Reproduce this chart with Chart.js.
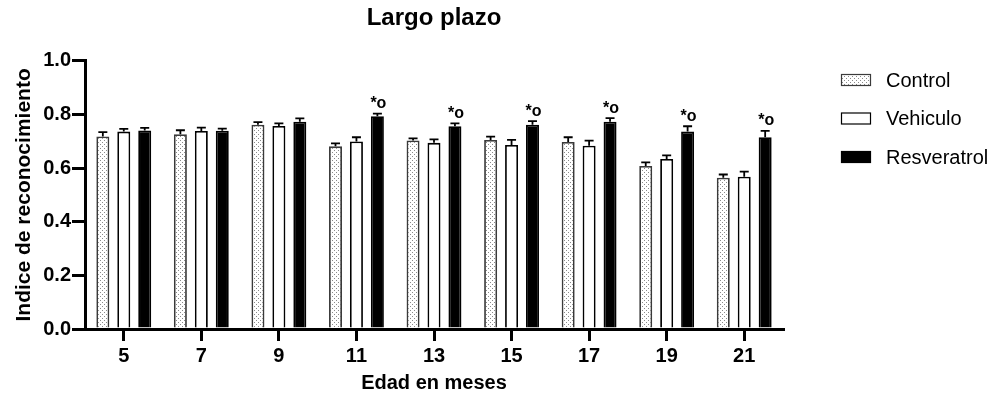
<!DOCTYPE html>
<html>
<head>
<meta charset="utf-8">
<script src="https://cdn.jsdelivr.net/npm/chart.js@4/dist/chart.umd.min.js"></script>
<style>
  html, body { margin: 0; padding: 0; background: #fff; }
  #wrap { width: 1000px; height: 398px; }
</style>
</head>
<body>
<div id="wrap"><canvas id="c" width="1000" height="398"></canvas></div>
<script>
// Age groups (months)
const edades = ['5', '7', '9', '11', '13', '15', '17', '19', '21'];

// Mean recognition index per group
const control     = [0.718, 0.726, 0.762, 0.681, 0.703, 0.705, 0.697, 0.608, 0.564];
const vehiculo    = [0.736, 0.738, 0.757, 0.699, 0.694, 0.686, 0.683, 0.634, 0.568];
const resveratrol = [0.740, 0.739, 0.773, 0.793, 0.756, 0.762, 0.773, 0.736, 0.715];

// Standard error of the mean
const controlErr     = [0.016, 0.015, 0.009, 0.011, 0.008, 0.012, 0.018, 0.013, 0.012];
const vehiculoErr    = [0.010, 0.013, 0.010, 0.016, 0.013, 0.019, 0.019, 0.013, 0.019];
const resveratrolErr = [0.010, 0.008, 0.012, 0.010, 0.011, 0.013, 0.013, 0.020, 0.024];

// Significance marks above the resveratrol bars
const resveratrolMarks = ['', '', '', '*o', '*o', '*o', '*o', '*o', '*o'];

// Y axis ticks
const yTicks = [0.0, 0.2, 0.4, 0.6, 0.8, 1.0];

const FONT = '"Liberation Sans", Arial, Helvetica, sans-serif';

// Stippled fill for the control group
function stipple() {
  const p = document.createElement('canvas');
  p.width = 4; p.height = 4;
  const g = p.getContext('2d');
  g.fillStyle = '#ffffff';
  g.fillRect(0, 0, 4, 4);
  g.fillStyle = '#8a8a8a';
  g.fillRect(0, 0, 1, 1);
  g.fillRect(2, 2, 1, 1);
  return g.createPattern(p, 'repeat');
}
const ctx0 = document.getElementById('c').getContext('2d');
const dots = stipple();

const errors = [controlErr, vehiculoErr, resveratrolErr];
const marks = [null, null, resveratrolMarks];

// Upward error bars with caps, plus significance marks
const errorBars = {
  id: 'errorBars',
  afterDatasetsDraw(chart) {
    const ctx = chart.ctx;
    const y = chart.scales.y;
    chart.data.datasets.forEach((ds, di) => {
      const meta = chart.getDatasetMeta(di);
      meta.data.forEach((bar, i) => {
        const v = ds.data[i];
        const top = y.getPixelForValue(v + errors[di][i]);
        const base = y.getPixelForValue(v);
        ctx.save();
        ctx.strokeStyle = '#000';
        ctx.lineWidth = 1.8;
        ctx.beginPath();
        ctx.moveTo(bar.x, base);
        ctx.lineTo(bar.x, top);
        ctx.moveTo(bar.x - 4.5, top);
        ctx.lineTo(bar.x + 4.5, top);
        ctx.stroke();
        const m = marks[di] && marks[di][i];
        if (m) {
          ctx.fillStyle = '#000';
          ctx.font = 'bold 16px ' + FONT;
          ctx.textAlign = 'center';
          ctx.textBaseline = 'middle';
          ctx.fillText(m, bar.x + 1, top - 10);
        }
        ctx.restore();
      });
    });
  }
};

// Legend at the right side
const sideLegend = {
  id: 'sideLegend',
  afterDraw(chart) {
    const ctx = chart.ctx;
    const x0 = 841, y0 = 80, step = 38.5;
    chart.data.datasets.forEach((ds, i) => {
      const cy = y0 + i * step;
      ctx.save();
      ctx.fillStyle = ds.backgroundColor;
      ctx.fillRect(x0, cy - 6, 30, 12);
      ctx.strokeStyle = ds.borderColor;
      ctx.lineWidth = 1.2;
      ctx.strokeRect(x0 + 0.5, cy - 5.5, 29, 11);
      ctx.fillStyle = '#000';
      ctx.font = '20px ' + FONT;
      ctx.textAlign = 'left';
      ctx.textBaseline = 'middle';
      ctx.fillText(ds.label, 886, cy + 1);
      ctx.restore();
    });
  }
};

new Chart(ctx0, {
  type: 'bar',
  data: {
    labels: edades,
    datasets: [
      { label: 'Control', data: control, backgroundColor: dots, borderColor: '#3a3a3a', borderWidth: 1.8 },
      { label: 'Vehiculo', data: vehiculo, backgroundColor: '#ffffff', borderColor: '#000000', borderWidth: 1.8 },
      { label: 'Resveratrol', data: resveratrol, backgroundColor: '#000000', borderColor: '#000000', borderWidth: 1.8 }
    ]
  },
  options: {
    responsive: false,
    animation: false,
    devicePixelRatio: 1,
    layout: { padding: { left: 8, right: 217, top: 0, bottom: 1 } },
    datasets: { bar: { categoryPercentage: 0.81, barPercentage: 0.62 } },
    plugins: {
      legend: { display: false },
      tooltip: { enabled: false },
      title: {
        display: true,
        text: 'Largo plazo',
        fullSize: false,
        color: '#000',
        font: { family: FONT, size: 24, weight: 'bold' },
        padding: { top: 4, bottom: 28 }
      }
    },
    scales: {
      x: {
        offset: true,
        border: { display: true, color: '#000', width: 3 },
        grid: { display: true, offset: false, drawOnChartArea: false, drawTicks: true, tickLength: 12, lineWidth: 3, color: '#000' },
        ticks: { color: '#000', padding: 3, font: { family: FONT, size: 20, weight: 'bold' } },
        title: { display: true, text: 'Edad en meses', color: '#000', padding: { top: 2, bottom: 2 }, font: { family: FONT, size: 20, weight: 'bold' } },
        afterFit(scale) { scale.height = 68; }
      },
      y: {
        min: 0, max: 1.0,
        afterBuildTicks(scale) { scale.ticks = yTicks.map(v => ({ value: v })); },
        border: { display: true, color: '#000', width: 3 },
        grid: { display: true, drawOnChartArea: false, drawTicks: true, tickLength: 13, lineWidth: 3, color: '#000' },
        ticks: { color: '#000', padding: 1, font: { family: FONT, size: 20, weight: 'bold' }, callback: v => Number(v).toFixed(1) },
        title: { display: true, text: 'Indice de reconocimiento', color: '#000', padding: { top: 4, bottom: 4 }, font: { family: FONT, size: 21, weight: 'bold' } },
        afterFit(scale) { scale.width = 77; }
      }
    }
  },
  plugins: [errorBars, sideLegend]
});
</script>
</body>
</html>
